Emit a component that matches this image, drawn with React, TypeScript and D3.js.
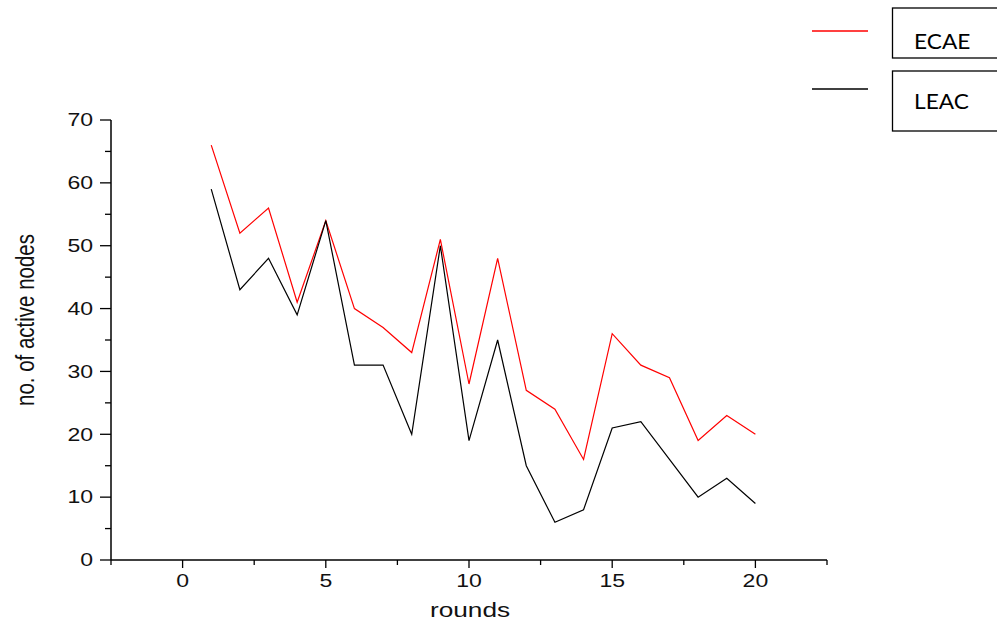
import React, { useEffect, useRef } from "react";
import * as d3 from "d3";

const rounds = [1, 2, 3, 4, 5, 6, 7, 8, 9, 10, 11, 12, 13, 14, 15, 16, 17, 18, 19, 20];
const ecae = [66, 52, 56, 41, 54, 40, 37, 33, 51, 28, 48, 27, 24, 16, 36, 31, 29, 19, 23, 20];
const leac = [59, 43, 48, 39, 54, 31, 31, 20, 50, 19, 35, 15, 6, 8, 21, 22, 16, 10, 13, 9];
const xMajorTicks = [0, 5, 10, 15, 20];
const xMinorTicks = [-2.5, 2.5, 7.5, 12.5, 17.5, 22.5];
const yMajorTicks = [0, 10, 20, 30, 40, 50, 60, 70];
const yMinorTicks = [5, 15, 25, 35, 45, 55, 65];
const seriesList = [
  { name: "ECAE", values: ecae, color: "#ff0000" },
  { name: "LEAC", values: leac, color: "#000000" },
];

export default function App() {
  const svgRef = useRef<SVGSVGElement>(null);
  const width = 997;
  const height = 623;

  useEffect(() => {
    const svg = d3.select(svgRef.current);
    svg.selectAll("*").remove();

    const margin = { top: 120, right: 170, bottom: 63, left: 111 };
    const innerWidth = width - margin.left - margin.right;
    const innerHeight = height - margin.top - margin.bottom;

    const x = d3.scaleLinear().domain([-2.5, 22.5]).range([0, innerWidth]);
    const y = d3.scaleLinear().domain([0, 70]).range([innerHeight, 0]);

    const g = svg
      .append("g")
      .attr("transform", `translate(${margin.left},${margin.top})`);

    const font = "'Liberation Sans', Arial, sans-serif";
    const stretch = 1.28; // the reference text is widened horizontally

    // x axis
    const xAxis = g.append("g").attr("transform", `translate(0,${innerHeight})`);
    xAxis
      .append("line")
      .attr("x1", 0)
      .attr("x2", innerWidth)
      .attr("stroke", "#000")
      .attr("stroke-width", 1.5);
    xAxis
      .selectAll(".minor")
      .data(xMinorTicks)
      .join("line")
      .attr("x1", (d) => x(d))
      .attr("x2", (d) => x(d))
      .attr("y2", 5)
      .attr("stroke", "#000")
      .attr("stroke-width", 1.3);
    const xMaj = xAxis
      .selectAll(".major")
      .data(xMajorTicks)
      .join("g")
      .attr("transform", (d) => `translate(${x(d)},0)`);
    xMaj.append("line").attr("y2", 8).attr("stroke", "#000").attr("stroke-width", 1.3);
    xMaj
      .append("text")
      .attr("transform", `translate(0,27) scale(${stretch},1)`)
      .attr("text-anchor", "middle")
      .attr("font-family", font)
      .attr("font-size", 18)
      .attr("fill", "#111")
      .text((d) => d);

    // y axis
    const yAxis = g.append("g");
    yAxis
      .append("line")
      .attr("y1", 0)
      .attr("y2", innerHeight)
      .attr("stroke", "#000")
      .attr("stroke-width", 1.5);
    yAxis
      .selectAll(".minor")
      .data(yMinorTicks)
      .join("line")
      .attr("y1", (d) => y(d))
      .attr("y2", (d) => y(d))
      .attr("x2", -6)
      .attr("stroke", "#000")
      .attr("stroke-width", 1.3);
    const yMaj = yAxis
      .selectAll(".major")
      .data(yMajorTicks)
      .join("g")
      .attr("transform", (d) => `translate(0,${y(d)})`);
    yMaj.append("line").attr("x2", -11).attr("stroke", "#000").attr("stroke-width", 1.3);
    yMaj
      .append("text")
      .attr("transform", `translate(-18,0) scale(${stretch},1)`)
      .attr("dy", "0.35em")
      .attr("text-anchor", "end")
      .attr("font-family", font)
      .attr("font-size", 18)
      .attr("fill", "#111")
      .text((d) => d);

    // axis titles
    svg
      .append("text")
      .attr("transform", `translate(470,617) scale(${stretch},1)`)
      .attr("text-anchor", "middle")
      .attr("font-family", font)
      .attr("font-size", 20.5)
      .attr("fill", "#111")
      .text("rounds");
    svg
      .append("text")
      .attr("transform", `translate(34,320) scale(${stretch},1) rotate(-90)`)
      .attr("text-anchor", "middle")
      .attr("font-family", font)
      .attr("font-size", 20.5)
      .attr("fill", "#111")
      .text("no. of active nodes");

    // lines
    const line = d3
      .line<number>()
      .x((_, i) => x(rounds[i]))
      .y((d) => y(d));

    seriesList.forEach((s) => {
      g.append("path")
        .datum(s.values)
        .attr("fill", "none")
        .attr("stroke", s.color)
        .attr("stroke-width", 1.2)
        .attr("d", line);
    });

    // legend
    const legend = svg.append("g");
    seriesList.forEach((s, i) => {
      const ly = 31 + i * 58;
      legend
        .append("line")
        .attr("x1", 812)
        .attr("x2", 868)
        .attr("y1", ly)
        .attr("y2", ly)
        .attr("stroke", s.color)
        .attr("stroke-width", 1.5);
      const boxTop = i === 0 ? 8 : 71;
      const boxH = i === 0 ? 50 : 60;
      legend
        .append("rect")
        .attr("x", 892.5)
        .attr("y", boxTop)
        .attr("width", 110)
        .attr("height", boxH)
        .attr("fill", "none")
        .attr("stroke", "#000")
        .attr("stroke-width", 1.3);
      legend
        .append("text")
        .attr("transform", `translate(914,${i === 0 ? 49 : 109}) scale(1.08,1)`)
        .attr("font-family", "Lato, 'Open Sans', sans-serif")
        .attr("font-size", 21)
        .attr("fill", "#000")
        .text(s.name);
    });
  }, []);

  return (
    <svg
      ref={svgRef}
      width={width}
      height={height}
      style={{ position: "absolute", left: 0, top: 0, background: "#fff" }}
    />
  );
}
